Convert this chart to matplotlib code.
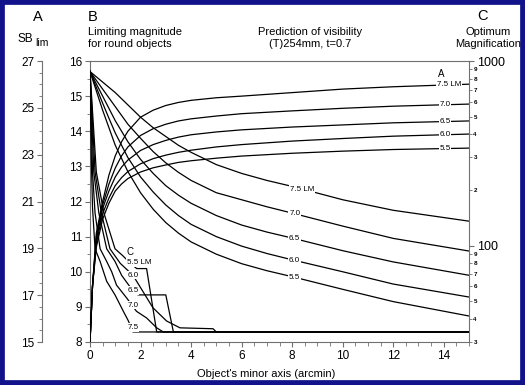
import numpy as np
import matplotlib
matplotlib.use("Agg")
import matplotlib.pyplot as plt
from matplotlib.patches import Rectangle
from matplotlib.ticker import MultipleLocator, FixedLocator, FixedFormatter

plt.rcParams['font.family'] = ['Liberation Sans', 'DejaVu Sans']

# ---- data ----
lm_levels = ['7.5', '7.0', '6.5', '6.0', '5.5']

# A: SB_lim curves (rising), values on the SB axis
x_a = [0, 0.1, 0.25, 0.5, 0.75, 1, 1.25, 1.5, 2, 2.5, 3, 3.5, 4, 5, 6, 8, 10, 12, 15]
sb_75 = [15, 17.4, 19.65, 21.0, 22.13, 22.95, 23.55, 24.0, 24.6, 24.9, 25.1, 25.23, 25.32, 25.43, 25.5, 25.65, 25.8, 25.9, 26.01]
sb_70 = [15, 17.4, 19.5, 20.85, 21.75, 22.43, 22.95, 23.33, 23.82, 24.11, 24.3, 24.44, 24.53, 24.65, 24.75, 24.87, 24.98, 25.07, 25.16]
sb_65 = [15, 17.4, 19.35, 20.7, 21.45, 22.05, 22.47, 22.77, 23.18, 23.43, 23.61, 23.75, 23.85, 23.97, 24.06, 24.18, 24.27, 24.36, 24.44]
sb_60 = [15, 17.4, 19.2, 20.48, 21.15, 21.68, 22.02, 22.28, 22.61, 22.83, 22.98, 23.1, 23.19, 23.33, 23.43, 23.58, 23.69, 23.79, 23.88]
sb_55 = [15, 17.4, 19.05, 20.25, 20.93, 21.45, 21.75, 21.98, 22.26, 22.44, 22.56, 22.67, 22.74, 22.85, 22.94, 23.06, 23.15, 23.22, 23.28]

# B: limiting magnitude for round objects (falling)
x_b = [0, 0.25, 0.5, 0.75, 1, 1.5, 2, 2.5, 3, 3.5, 4, 5, 6, 7, 8, 10, 12, 15]
lim_75 = [15.7, 15.55, 15.4, 15.25, 15.1, 14.75, 14.4, 14.1, 13.85, 13.6, 13.4, 13.05, 12.8, 12.6, 12.43, 12.05, 11.75, 11.44]
lim_70 = [15.7, 15.45, 15.2, 14.95, 14.7, 14.2, 13.8, 13.42, 13.1, 12.83, 12.6, 12.25, 12.05, 11.85, 11.67, 11.3, 10.95, 10.59]
lim_65 = [15.7, 15.35, 15.0, 14.65, 14.3, 13.7, 13.2, 12.8, 12.45, 12.18, 11.95, 11.6, 11.33, 11.13, 10.96, 10.6, 10.28, 9.9]
lim_60 = [15.7, 15.25, 14.8, 14.37, 13.95, 13.25, 12.7, 12.27, 11.9, 11.6, 11.35, 11.0, 10.73, 10.52, 10.34, 10.0, 9.65, 9.28]
lim_55 = [15.7, 15.15, 14.6, 14.1, 13.6, 12.85, 12.25, 11.78, 11.4, 11.1, 10.85, 10.5, 10.23, 10.03, 9.86, 9.5, 9.15, 8.74]

# C: optimum magnification
c75_x = [0, 0.05, 0.1, 0.2, 0.4, 0.66, 0.99, 1.32, 1.52, 1.7, 15]
c75_m = [880, 300, 160, 96, 82, 64, 54, 44, 39, 34, 34]
c70_x = [0, 0.1, 0.2, 0.4, 0.66, 0.86, 1.05, 1.45, 1.84, 2.24, 2.64, 2.9, 15]
c70_m = [880, 250, 150, 96, 82, 72, 61, 52, 44, 40.5, 35.8, 34, 34]
c65_x = [0, 0.15, 0.35, 0.66, 0.99, 1.25, 1.65, 1.9, 3.0, 3.3, 15]
c65_m = [880, 250, 150, 96, 82, 69, 58, 54, 54, 34, 34]
c60_x = [0, 0.2, 0.45, 0.79, 1.2, 1.7, 2.49, 3.03, 3.56, 4.87, 5.0, 15]
c60_m = [880, 250, 150, 96, 80, 69, 46, 39, 35.8, 35.4, 34, 34]
c55_x = [0, 0.25, 0.55, 0.99, 1.3, 1.6, 1.85, 2.24, 2.64, 15]
c55_m = [880, 250, 150, 96, 88, 80, 75, 75, 34, 34]

W, H = 525, 385
PT = 0.72  # points per pixel at 100 dpi
fig = plt.figure(figsize=(W / 100, H / 100), dpi=100)
fig.patches.append(Rectangle((0, 0), 1, 1, transform=fig.transFigure,
                             fill=False, edgecolor='#12128a', linewidth=7))

ax = fig.add_axes([90 / W, 1 - 342 / H, (469 - 90) / W, (342 - 61) / H])
ax_a = ax.twinx()
ax_c = ax.twinx()

axis_col = '#707070'
lc = 'black'
lw = 0.9
tfs = 8.5

# main axes (B)
ax.set_xlim(0, 15)
ax.set_ylim(8, 16)
ax.xaxis.set_major_locator(MultipleLocator(2))
ax.xaxis.set_minor_locator(MultipleLocator(0.5))
ax.yaxis.set_major_locator(MultipleLocator(1))
ax.yaxis.set_minor_locator(MultipleLocator(0.5))
ax.spines['right'].set_visible(False)
for s in ['left', 'bottom', 'top']:
    ax.spines[s].set_color(axis_col)
ax.tick_params(which='both', color=axis_col, labelsize=tfs, direction='out')
ax.tick_params(which='major', length=5 * PT, pad=2)
ax.tick_params(which='minor', length=3.5 * PT)

# A axis (SB_lim), offset to the left
ax_a.set_ylim(15, 27)
ax_a.spines['left'].set_position(('outward', 48 * PT))
ax_a.spines['left'].set_visible(True)
ax_a.spines['left'].set_color(axis_col)
for s in ['right', 'top', 'bottom']:
    ax_a.spines[s].set_visible(False)
ax_a.yaxis.set_ticks_position('left')
ax_a.yaxis.set_label_position('left')
ax_a.yaxis.set_major_locator(FixedLocator([15, 17, 19, 21, 23, 25, 27]))
ax_a.yaxis.set_minor_locator(MultipleLocator(0.5))
ax_a.tick_params(which='both', color=axis_col, labelsize=tfs, direction='out')
ax_a.tick_params(which='major', length=5 * PT, pad=2)
ax_a.tick_params(which='minor', length=3.5 * PT)

# C axis (magnification, log)
ax_c.set_yscale('log')
ax_c.set_ylim(30, 1000)
for s in ['left', 'top', 'bottom']:
    ax_c.spines[s].set_visible(False)
ax_c.spines['right'].set_color(axis_col)
ax_c.yaxis.set_major_locator(FixedLocator([100, 1000]))
ax_c.yaxis.set_major_formatter(FixedFormatter(['100', '1000']))
minor_vals = [30, 40, 50, 60, 70, 80, 90, 200, 300, 400, 500, 600, 700, 800, 900]
ax_c.yaxis.set_minor_locator(FixedLocator(minor_vals))
ax_c.yaxis.set_minor_formatter(FixedFormatter([str(v)[0] for v in minor_vals]))
ax_c.tick_params(which='major', color=axis_col, labelsize=9, length=5 * PT, direction='out', pad=2)
ax_c.tick_params(which='minor', color=axis_col, labelsize=4.5, length=3 * PT, direction='out', pad=1)
for t in ax_c.yaxis.get_minorticklabels():
    t.set_fontweight('bold')

# curves
for ys in [sb_75, sb_70, sb_65, sb_60, sb_55]:
    ax_a.plot(x_a, ys, color=lc, lw=lw)
for ys in [lim_75, lim_70, lim_65, lim_60, lim_55]:
    ax.plot(x_b, ys, color=lc, lw=lw)
for xs, ms in [(c75_x, c75_m), (c70_x, c70_m), (c65_x, c65_m), (c60_x, c60_m), (c55_x, c55_m)]:
    ax_c.plot(xs, ms, color=lc, lw=lw)

# inline curve labels (drawn on top axes so they mask lines)
box = dict(facecolor='white', edgecolor='none', pad=0.5)
fs = 5.8
for lab, ys in zip(lm_levels, [sb_75, sb_70, sb_65, sb_60, sb_55]):
    txt = lab + ' LM' if lab == '7.5' else lab
    xp = 14.2 if lab == '7.5' else 14.05
    ax_c.text(xp, np.interp(xp, x_a, ys), txt, transform=ax_a.transData,
              ha='center', va='center', fontsize=fs, bbox=box)
ax_c.text(13.9, 26.45, 'A', transform=ax_a.transData, ha='center', va='center', fontsize=7)
for lab, ys in zip(lm_levels, [lim_75, lim_70, lim_65, lim_60, lim_55]):
    txt = lab + ' LM' if lab == '7.5' else lab
    xp = 8.4 if lab == '7.5' else 8.1
    ax_c.text(xp, np.interp(xp, x_b, ys), txt, transform=ax.transData,
              ha='center', va='center', fontsize=fs, bbox=box)
c_lab_pos = [(1.7, 36, '7.5'), (1.7, 47.6, '7.0'), (1.7, 57, '6.5'), (1.7, 69, '6.0'), (1.94, 81, '5.5 LM')]
for xp, mp, txt in c_lab_pos:
    ax_c.text(xp, mp, txt, ha='center', va='center', fontsize=fs, bbox=box)
ax_c.text(1.58, 92, 'C', ha='center', va='center', fontsize=7)

# headers
def ftext(x, y, s, **kw):
    fig.text(x / W, 1 - y / H, s, **kw)

ftext(38, 17, 'A', fontsize=10.5, ha='center', va='center')
ftext(18, 39, 'SB', fontsize=8.5, ha='left', va='center')
ftext(35, 43.5, 'lim', fontsize=7.5, ha='left', va='center')
ftext(93, 17, 'B', fontsize=10.5, ha='center', va='center')
ftext(88, 38, 'Limiting magnitude\nfor round objects', fontsize=8, ha='left', va='center', linespacing=1.2)
ftext(310, 38, 'Prediction of visibility\n(T)254mm, t=0.7', fontsize=8, ha='center', va='center', linespacing=1.2)
ftext(482, 16, 'C', fontsize=10.5, ha='center', va='center')
ftext(488, 38, 'Optimum\nMagnification', fontsize=8, ha='center', va='center', linespacing=1.2)
ftext(266, 374, "Object's minor axis (arcmin)", fontsize=8, ha='center', va='center')

fig.savefig('out.png', dpi=100)
